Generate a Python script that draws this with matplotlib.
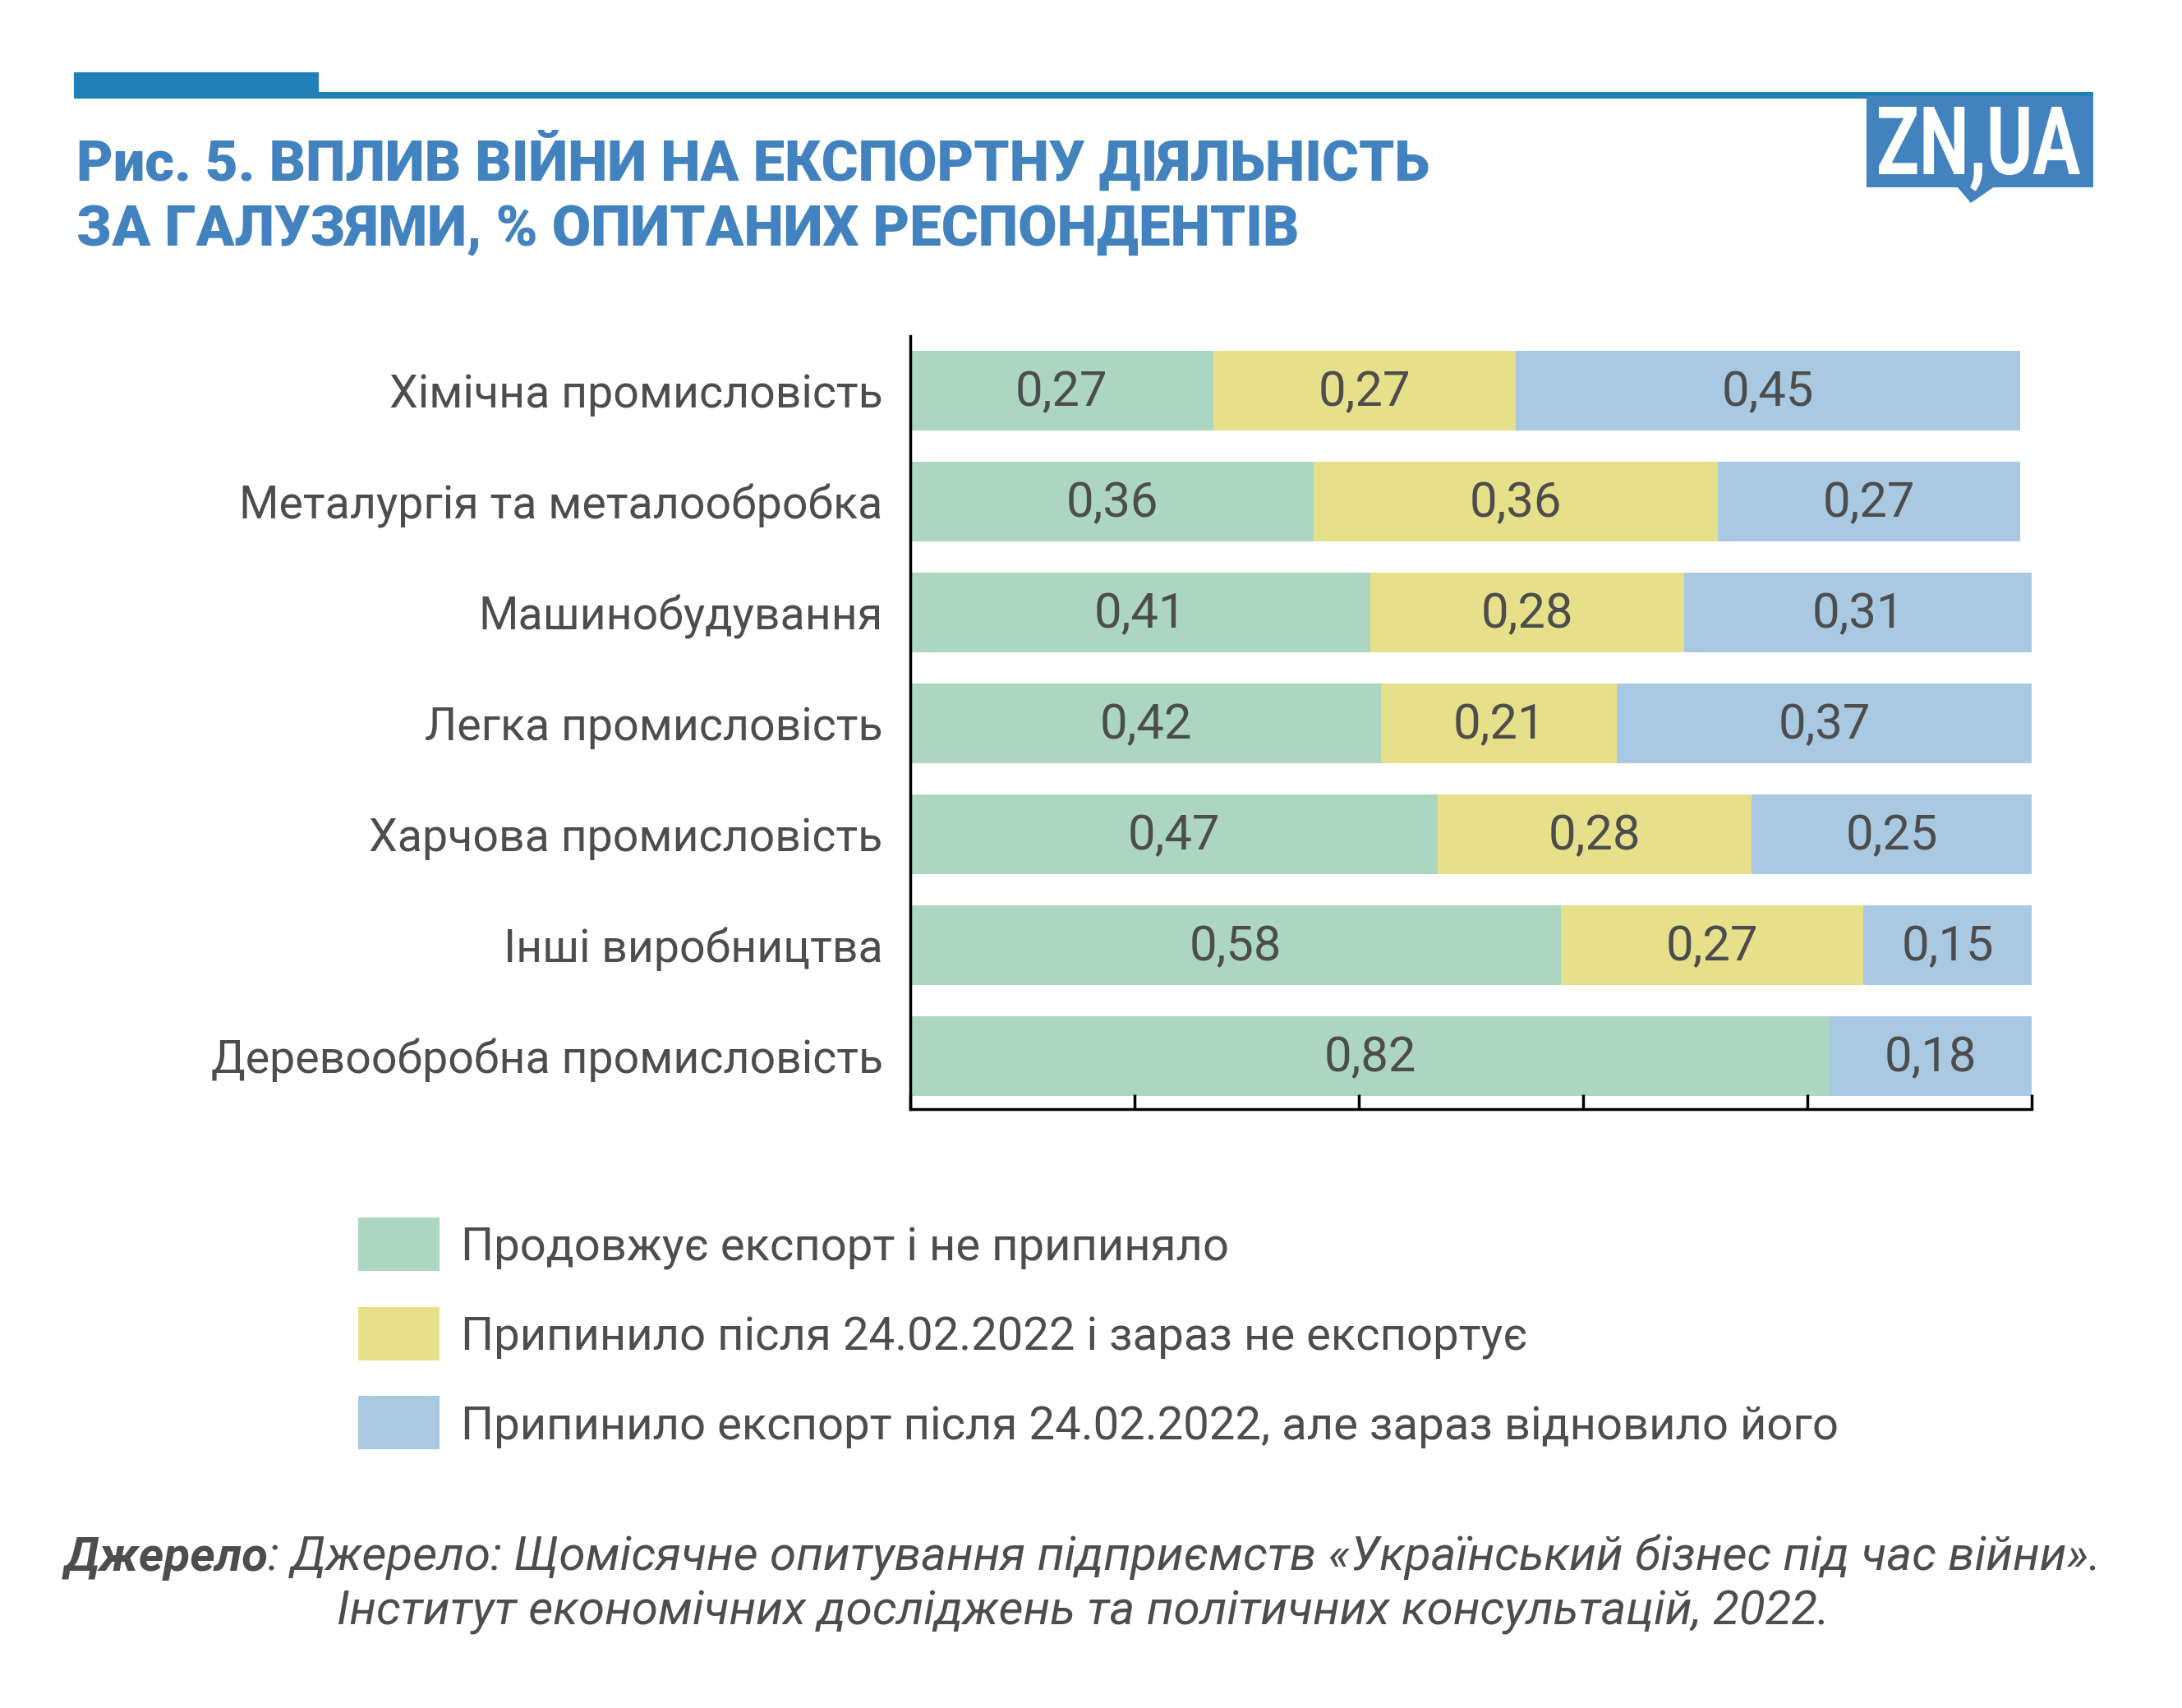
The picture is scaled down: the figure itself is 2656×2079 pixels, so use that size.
import matplotlib
matplotlib.use("Agg")
import matplotlib.pyplot as plt
from matplotlib.patches import Rectangle, Polygon, PathPatch
from matplotlib.textpath import TextPath
from matplotlib.font_manager import FontProperties
from matplotlib.transforms import Affine2D

plt.rcParams['font.family'] = ['Roboto', 'DejaVu Sans']

# --- data ---
industries = ["Хімічна промисловість", "Металургія та металообробка", "Машинобудування",
              "Легка промисловість", "Харчова промисловість", "Інші виробництва",
              "Деревообробна промисловість"]
continues = [0.27, 0.36, 0.41, 0.42, 0.47, 0.58, 0.82]
stopped = [0.27, 0.36, 0.28, 0.21, 0.28, 0.27, 0.0]
resumed = [0.45, 0.27, 0.31, 0.37, 0.25, 0.15, 0.18]
series_names = ["Продовжує експорт і не припиняло",
                "Припинило після 24.02.2022 і зараз не експортує",
                "Припинило експорт після 24.02.2022, але зараз відновило його"]
colors = ["#acd6c2", "#e7e08a", "#a9c9e2"]
x_ticks = [0, 0.2, 0.4, 0.6, 0.8, 1.0]

title_lines = ["Рис. 5. ВПЛИВ ВІЙНИ НА ЕКСПОРТНУ ДІЯЛЬНІСТЬ",
               "ЗА ГАЛУЗЯМИ, % ОПИТАНИХ РЕСПОНДЕНТІВ"]
source_bold = "Джерело"
source_rest = ": Джерело: Щомісячне опитування підприємств «Український бізнес під час війни»."
source_line2 = "Інститут економічних досліджень та політичних консультацій, 2022."

TXT = "#4d4d4d"
BLUE = "#4283bf"
LINE_BLUE = "#2280b8"

W, H = 2656, 2079
fig = plt.figure(figsize=(W / 100, H / 100), dpi=100)

def fx(px):
    return px / W

def fy(py):
    return 1 - py / H

# --- header decoration ---
fig.patches.append(Rectangle((fx(90), fy(120)), fx(388) - fx(90), fy(88) - fy(120),
                             transform=fig.transFigure, color=LINE_BLUE, lw=0))
fig.patches.append(Rectangle((fx(388), fy(120)), fx(2548) - fx(388), fy(112) - fy(120),
                             transform=fig.transFigure, color=LINE_BLUE, lw=0))
# logo
fig.patches.append(Rectangle((fx(2272), fy(228)), fx(2548) - fx(2272), fy(117) - fy(228),
                             transform=fig.transFigure, color=BLUE, lw=0))
fig.patches.append(Polygon([(fx(2382), fy(227)), (fx(2428), fy(227)), (fx(2399), fy(247))],
                           closed=True, transform=fig.transFigure, color=BLUE, lw=0))
# condensed logo lettering: squeeze a text path into the box
tp = TextPath((0, 0), "ZN,UA", size=100, prop=FontProperties(family="Roboto", weight="bold"))
cap = TextPath((0, 0), "Z", size=100, prop=FontProperties(family="Roboto", weight="bold"))
ext = tp.get_extents()
cap_h = cap.get_extents().y1
sx = 245 / ext.width
sy = 82 / cap_h
tr = Affine2D().translate(-ext.x0, 0).scale(sx, sy).translate(2287, H - 212)
fig.patches.append(PathPatch(tp, transform=tr, color="white", lw=0))

fig.text(fx(93), fy(220), title_lines[0], color=BLUE, fontsize=49.5, fontweight="black",
         ha="left", va="baseline")
fig.text(fx(93), fy(299), title_lines[1], color=BLUE, fontsize=49.5, fontweight="black",
         ha="left", va="baseline")

# --- chart ---
ax = fig.add_axes([fx(1108), fy(1350), fx(2473) - fx(1108), fy(409) - fy(1350)])
ypos = list(range(len(industries)))
lefts = [0.0] * len(industries)
for vals, col in zip([continues, stopped, resumed], colors):
    ax.barh(ypos, vals, left=lefts, height=0.72, color=col, lw=0)
    for i, v in enumerate(vals):
        if v > 0:
            ax.text(lefts[i] + v / 2, ypos[i] + 0.02, f"{v:.2f}".replace(".", ","),
                    ha="center", va="center", fontsize=43, color=TXT)
    lefts = [l + v for l, v in zip(lefts, vals)]

ax.set_xlim(0, 1)
ax.set_ylim(6.48, -0.49)
ax.set_yticks(ypos)
ax.set_yticklabels(industries, fontsize=40, color=TXT)
ax.set_xticks(x_ticks)
ax.set_xticklabels([])
ax.tick_params(axis="y", length=0, pad=24)
ax.tick_params(axis="x", direction="in", length=13, width=2.5, color="black")
for s in ["top", "right"]:
    ax.spines[s].set_visible(False)
for s in ["left", "bottom"]:
    ax.spines[s].set_linewidth(2.5)
    ax.spines[s].set_color("black")

# --- legend ---
leg_tops = [1482, 1591, 1699]
for top, col, name in zip(leg_tops, colors, series_names):
    fig.patches.append(Rectangle((fx(436), fy(top + 65)), fx(535) - fx(436), fy(top) - fy(top + 65),
                                 transform=fig.transFigure, color=col, lw=0))
    fig.text(fx(561), fy(top + 32), name, fontsize=40.5, color=TXT, ha="left", va="center_baseline")

# --- source ---
r = fig.canvas.get_renderer()
t1 = fig.text(0, fy(1912), source_bold, fontsize=42, color=TXT, style="italic",
              fontweight="bold", ha="left", va="baseline")
t2 = fig.text(0, fy(1912), source_rest, fontsize=42, color=TXT, style="italic",
              ha="left", va="baseline")
w1 = t1.get_window_extent(r).width
w2 = t2.get_window_extent(r).width
start = 1318 - (w1 + w2) / 2
t1.set_x(fx(start))
t2.set_x(fx(start + w1))
fig.text(fx(1318), fy(1978), source_line2, fontsize=42, color=TXT, style="italic",
         ha="center", va="baseline")

fig.savefig("out.png", dpi=100, facecolor="white")
